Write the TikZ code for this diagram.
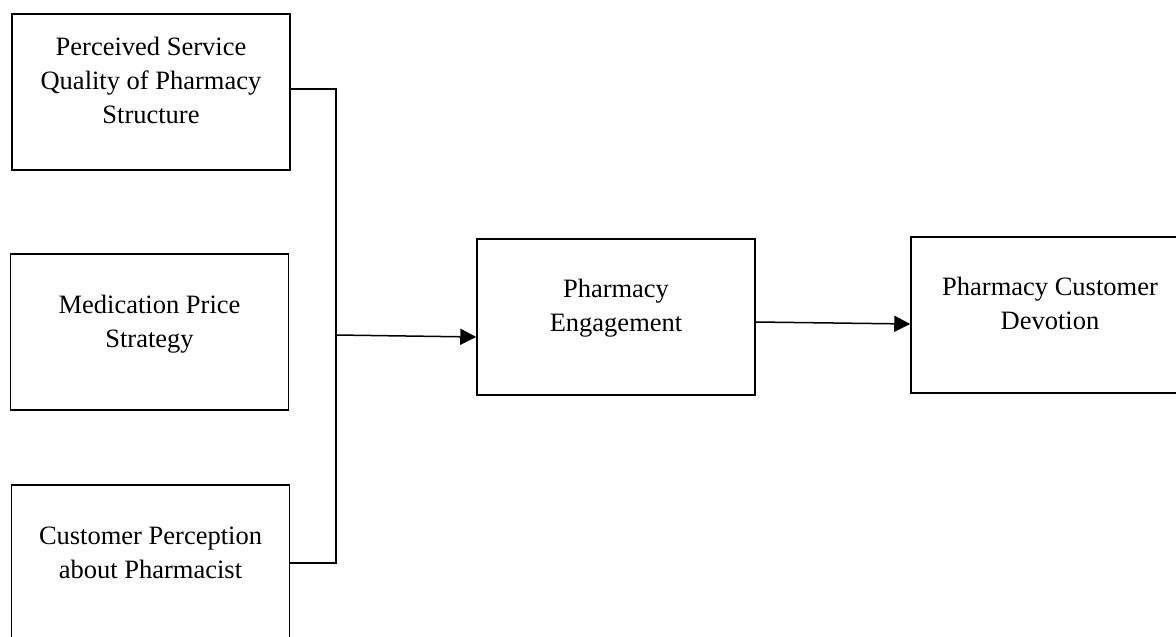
\documentclass[tikz,border=0pt]{standalone}
\usepackage{fontspec}
\setmainfont{Liberation Serif}
\usetikzlibrary{arrows.meta}
\begin{document}
\begin{tikzpicture}[x=1pt,y=-1pt,
  box/.style={draw, line width=1.5pt, rectangle, inner sep=0pt,
    minimum width=278pt, minimum height=156pt},
  txt/.style={inner sep=0pt, align=center,
    font=\fontsize{26.5}{34}\selectfont},
  link/.style={line width=1.5pt},
  arr/.style={line width=1.5pt, -{Triangle[length=16pt,width=16pt]}}]
  \clip (0,0) rectangle (1176,637);
  % input constructs
  \node[box] (b1) at (151,92) {};
  \node[txt] at ([yshift=12pt]b1.center) {Perceived Service\\Quality of Pharmacy\\Structure};
  \node[box] (b2) at (149.5,332) {};
  \node[txt] at ([yshift=8pt]b2.center) {Medication Price\\Strategy};
  \node[box] (b3) at (150.5,563) {};
  \node[txt] at ([yshift=10pt]b3.center) {Customer Perception\\about Pharmacist};
  % mediator and outcome
  \node[box] (pe) at (616,317) {};
  \node[txt] at ([yshift=8.5pt]pe.center) {Pharmacy\\Engagement};
  \node[box] (dev) at (1050,315) {};
  \node[txt] at ([yshift=11.5pt]dev.center) {Pharmacy Customer\\Devotion};
  % bracket joining the inputs
  \coordinate (j) at (336,335);
  \draw[link] ([yshift=3pt]b1.east) -| (j);
  \draw[link] (b3.east) -| (j);
  % arrows
  \draw[arr] (j) -- ([yshift=-20pt]pe.west);
  \draw[arr] ([yshift=-5pt]pe.east) -- ([yshift=-9pt]dev.west);
\end{tikzpicture}
\end{document}
